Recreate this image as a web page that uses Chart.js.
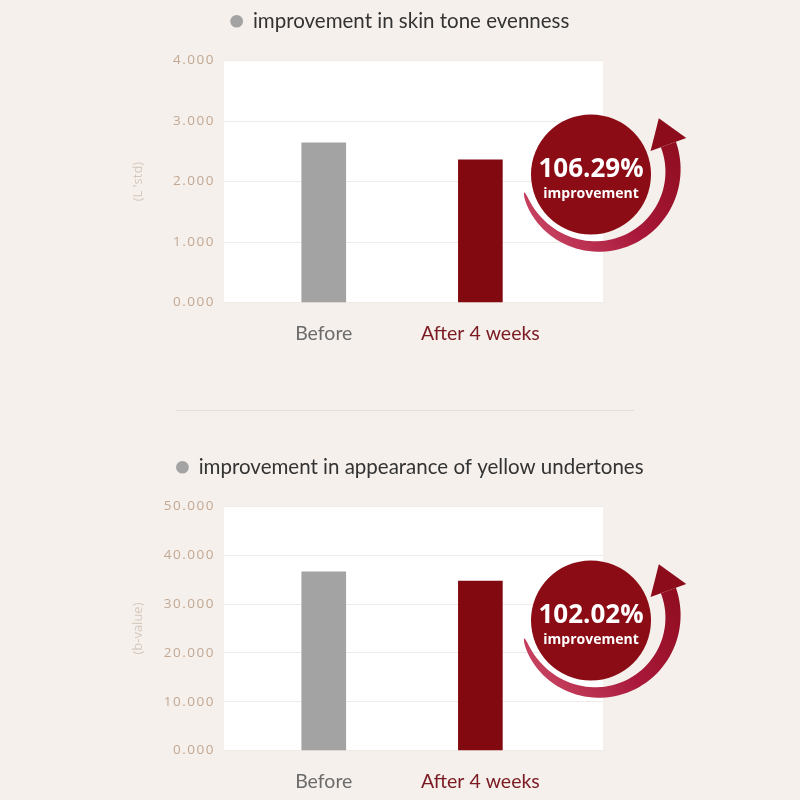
<!DOCTYPE html>
<html>
<head>
<meta charset="utf-8">
<script src="https://cdn.jsdelivr.net/npm/chart.js@4.4.1/dist/chart.umd.min.js"></script>
<style>
    html, body { margin: 0; padding: 0; background: #f5f0ec; }
    #wrap { position: relative; width: 800px; height: 800px; overflow: hidden; }
    canvas { position: absolute; left: 0; }
    #toneChart { top: 0; }
    #yellowChart { top: 446px; }
    .divider { position: absolute; left: 176px; top: 410px; width: 458px; height: 1px; background: #e2ddd8; }
</style>
</head>
<body>
<div id="wrap">
    <canvas id="toneChart" width="800" height="360"></canvas>
    <div class="divider"></div>
    <canvas id="yellowChart" width="800" height="362"></canvas>
</div>
<script>
// data
const categories = ["Before", "After 4 weeks"];
const toneValues = [2.64, 2.36];
const yellowValues = [36.6, 34.7];
const toneTicks = [0, 1, 2, 3, 4];
const yellowTicks = [0, 10, 20, 30, 40, 50];
const toneBadge = ["106.29%", "improvement"];
const yellowBadge = ["102.02%", "improvement"];

const barColors = ["#a3a3a3", "#820910"];
const labelColors = ["#6b6b6b", "#7b1a22"];

// white plot panel
const plotPanel = {
    id: "plotPanel",
    beforeDraw(chart) {
        const a = chart.chartArea;
        chart.ctx.save();
        chart.ctx.fillStyle = "#ffffff";
        chart.ctx.fillRect(a.left, a.top, a.right - a.left, a.bottom - a.top);
        chart.ctx.restore();
    }
};

// a bit more room under the legend
const legendGap = {
    id: "legendGap",
    beforeInit(chart) {
        const fit = chart.legend.fit;
        chart.legend.fit = function () {
            fit.call(this);
            this.height += 19;
        };
    }
};

// spaced-out y tick labels (they are drawn after the bars, see ticks.z)
const tickSpacing = {
    id: "tickSpacing",
    beforeDatasetsDraw(chart) { chart.ctx.letterSpacing = "1.5px"; },
    afterDraw(chart) { chart.ctx.letterSpacing = "0px"; }
};

// red circle with the curved arrow
const badge = {
    id: "badge",
    afterDraw(chart, args, opts) {
        const ctx = chart.ctx;
        const a = chart.chartArea;
        const cx = a.right - 12, cy = a.top + 114, rad = 60;
        const ax = a.right - 6, ay = a.top + 110, ar = 76;
        const a0 = 163 * Math.PI / 180, a1 = -20 * Math.PI / 180;

        ctx.save();
        // arc, thin at the tail and thick at the head
        const outer = [], inner = [];
        const n = 60;
        for (let i = 0; i <= n; i++) {
            const t = i / n;
            const ang = a0 + (a1 - a0) * t;
            const w = 1 + 15 * Math.sqrt(t);
            outer.push([ax + (ar + w / 2) * Math.cos(ang), ay + (ar + w / 2) * Math.sin(ang)]);
            inner.push([ax + (ar - w / 2) * Math.cos(ang), ay + (ar - w / 2) * Math.sin(ang)]);
        }
        const grad = ctx.createLinearGradient(ax - 80, ay + 50, ax + 80, ay - 50);
        grad.addColorStop(0, "#cb4866");
        grad.addColorStop(0.5, "#a9183a");
        grad.addColorStop(1, "#8c0c1b");
        ctx.fillStyle = grad;
        ctx.beginPath();
        outer.forEach((p, i) => i ? ctx.lineTo(p[0], p[1]) : ctx.moveTo(p[0], p[1]));
        for (let i = inner.length - 1; i >= 0; i--) ctx.lineTo(inner[i][0], inner[i][1]);
        ctx.closePath();
        ctx.fill();

        // arrow head
        const ex = ax + ar * Math.cos(a1), ey = ay + ar * Math.sin(a1);
        const dx = Math.sin(a1), dy = -Math.cos(a1);
        const nx = Math.cos(a1), ny = Math.sin(a1);
        ctx.fillStyle = "#8c0c1b";
        ctx.beginPath();
        ctx.moveTo(ex + dx * 28, ey + dy * 28);
        ctx.lineTo(ex + nx * 19, ey + ny * 19);
        ctx.lineTo(ex - nx * 19, ey - ny * 19);
        ctx.closePath();
        ctx.fill();

        // circle
        ctx.fillStyle = "#8b0c14";
        ctx.beginPath();
        ctx.arc(cx, cy, rad, 0, Math.PI * 2);
        ctx.fill();

        ctx.fillStyle = "#ffffff";
        ctx.textAlign = "center";
        ctx.textBaseline = "middle";
        ctx.font = "bold 26px 'Open Sans'";
        ctx.fillText(opts.lines[0], cx, cy - 5);
        ctx.font = "bold 14px 'Open Sans'";
        ctx.fillText(opts.lines[1], cx, cy + 20);
        ctx.restore();
    }
};

// legendShift moves the legend right by half its value, plot stays put
function makeChart(id, title, values, ticks, axisTitle, badgeLines, legendShift) {
    const ctx = document.getElementById(id).getContext("2d");
    return new Chart(ctx, {
        type: "bar",
        data: {
            datasets: [{
                label: title,
                data: values.map((v, i) => ({ x: i, y: v })),
                backgroundColor: barColors,
                borderWidth: 0,
                barThickness: 44
            }]
        },
        plugins: [plotPanel, legendGap, tickSpacing, badge],
        options: {
            responsive: false,
            animation: false,
            layout: { padding: { left: 120, right: 120 - legendShift, top: 1, bottom: 4 } },
            plugins: {
                legend: {
                    display: true,
                    onClick: null,
                    labels: {
                        usePointStyle: true,
                        pointStyle: "circle",
                        boxWidth: 12,
                        boxHeight: 9,
                        color: "#333333",
                        font: { family: "Lato", size: 20.5 }
                    }
                },
                tooltip: { enabled: false },
                badge: { lines: badgeLines }
            },
            scales: {
                x: {
                    type: "linear",
                    offset: false,
                    min: -0.637,
                    max: 1.783,
                    afterBuildTicks: s => { s.ticks = categories.map((c, i) => ({ value: i })); },
                    ticks: {
                        padding: 11,
                        maxRotation: 0,
                        autoSkip: false,
                        callback: v => categories[v],
                        color: c => labelColors[c.index] || "#6b6b6b",
                        font: { family: "Lato", size: 19.5 }
                    },
                    grid: { display: false },
                    border: { display: false }
                },
                y: {
                    min: ticks[0],
                    max: ticks[ticks.length - 1],
                    afterBuildTicks: s => { s.ticks = ticks.map(v => ({ value: v })); },
                    afterFit: s => { s.width = 104; },
                    ticks: {
                        z: 1,
                        padding: 9,
                        color: "#c2a893",
                        font: { family: "Open Sans", size: 13.5 },
                        callback: v => v.toFixed(3)
                    },
                    grid: { color: "#efebe7", drawTicks: false },
                    border: { display: false },
                    title: {
                        display: true,
                        text: axisTitle,
                        color: "#d6c7bb",
                        font: { family: "Open Sans", size: 13 },
                        padding: { top: 10, bottom: 0 }
                    }
                },
                // empty right-hand axis: keeps the legend centred on the page
                spacer: {
                    position: "right",
                    display: true,
                    ticks: { display: false },
                    grid: { display: false },
                    border: { display: false },
                    afterFit: s => { s.width = 77 + legendShift; }
                }
            }
        }
    });
}

makeChart("toneChart", "improvement in skin tone evenness", toneValues, toneTicks, "(L 'std)", toneBadge, 0);
makeChart("yellowChart", "improvement in appearance of yellow undertones", yellowValues, yellowTicks, "(b-value)", yellowBadge, 20);
</script>
</body>
</html>
